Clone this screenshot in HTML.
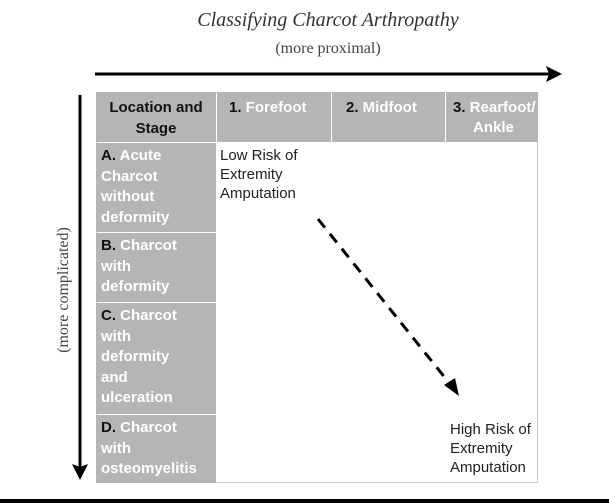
<!DOCTYPE html>
<html><head><style>
body{margin:0;width:609px;height:503px;background:#fff;position:relative;overflow:hidden;font-family:"Liberation Sans",Arial,sans-serif}
.t{position:absolute;white-space:nowrap}
.c{position:absolute;box-sizing:border-box;background:#b5b5b5;font-weight:bold;font-size:15px;line-height:20.5px;color:#fff;padding:3px 5px;white-space:nowrap}
.c b{color:#111}
</style></head><body>
<div class="t" style="left:0;width:656px;text-align:center;top:9px;font-family:'Liberation Serif',serif;font-style:italic;font-size:20px;color:#333">Classifying Charcot Arthropathy</div>
<div class="t" style="left:0;width:656px;text-align:center;top:40px;font-family:'Liberation Serif',serif;font-size:16px;color:#444">(more proximal)</div>
<div class="t" style="left:-5px;top:280px;width:140px;text-align:center;transform:rotate(-90deg);transform-origin:70px 10px;font-family:'Liberation Serif',serif;font-size:16px;color:#444">(more complicated)</div>
<div style="position:absolute;left:96px;top:92px;width:442px;height:391px;border:1px solid #ccc;box-sizing:border-box"></div>
<div class="c" style="left:96px;top:92px;width:120px;height:50px;text-align:center;color:#111;padding-top:6px;white-space:normal">Location and Stage</div>
<div class="c" style="left:217px;top:92px;width:114px;height:50px;padding-left:12px;padding-top:6px"><b>1.</b> Forefoot</div>
<div class="c" style="left:332px;top:92px;width:113px;height:50px;padding-left:14px;padding-top:6px"><b>2.</b> Midfoot</div>
<div class="c" style="left:446px;top:92px;width:92px;height:50px;padding-left:7px;padding-top:6px;line-height:20px"><b>3.</b> Rearfoot/<br><span style="padding-left:20px">Ankle</span></div>
<div class="c" style="left:96px;top:143px;width:120px;height:89px"><b>A.</b> Acute<br>Charcot<br>without<br>deformity</div>
<div class="c" style="left:96px;top:233px;width:120px;height:69px"><b>B.</b> Charcot<br>with<br>deformity</div>
<div class="c" style="left:96px;top:303px;width:120px;height:111px"><b>C.</b> Charcot<br>with<br>deformity<br>and<br>ulceration</div>
<div class="c" style="left:96px;top:415px;width:120px;height:68px"><b>D.</b> Charcot<br>with<br>osteomyelitis</div>
<div class="t" style="left:220px;top:146px;font-size:15px;line-height:19px;color:#222">Low Risk of<br>Extremity<br>Amputation</div>
<div class="t" style="left:450px;top:420px;font-size:15px;line-height:19px;color:#222">High Risk of<br>Extremity<br>Amputation</div>
<svg width="609" height="503" style="position:absolute;left:0;top:0">
<line x1="95" y1="74" x2="550" y2="74" stroke="#000" stroke-width="3"/>
<polygon points="562,74 546,66 549,74 546,82" fill="#000"/>
<line x1="80" y1="95" x2="80" y2="468" stroke="#000" stroke-width="3"/>
<polygon points="80,480 72,464 80,467 88,464" fill="#000"/>
<line x1="318" y1="219" x2="450" y2="384" stroke="#000" stroke-width="3" stroke-dasharray="11,8"/>
<polygon points="459,396 444,385 455,378" fill="#000"/>
<rect x="0" y="499" width="609" height="4" fill="#000"/>
</svg>
</body></html>
